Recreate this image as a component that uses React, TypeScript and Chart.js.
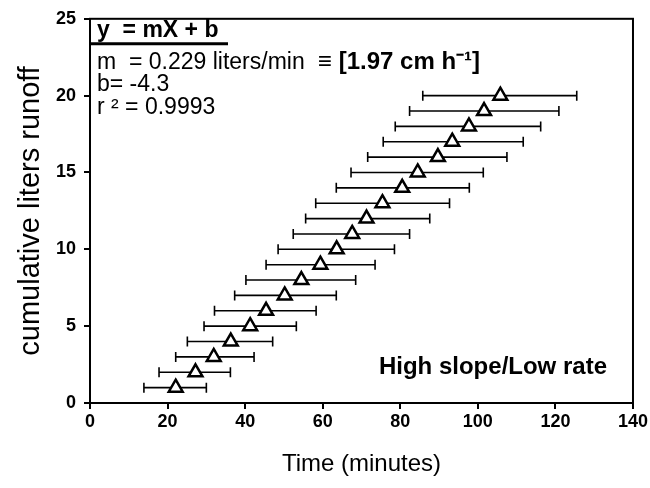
import React, { useEffect, useRef } from "react";
import { Chart, registerables } from "chart.js";

Chart.register(...registerables);

// cumulative liters of runoff (y) and time in minutes (x) with horizontal error range
const runoffLiters = [1, 2, 3, 4, 5, 6, 7, 8, 9, 10, 11, 12, 13, 14, 15, 16, 17, 18, 19, 20];
const timeMean = [22.1, 27.2, 31.9, 36.3, 41.3, 45.4, 50.2, 54.5, 59.4, 63.6, 67.6, 71.3, 75.4, 80.5, 84.5, 89.7, 93.4, 97.7, 101.6, 105.8];
const timeLow = [13.9, 17.8, 22.1, 25.1, 29.4, 32.1, 37.3, 40.2, 45.4, 48.5, 52.4, 55.6, 58.2, 63.5, 67.3, 71.6, 75.6, 78.7, 82.4, 85.8];
const timeHigh = [30.0, 36.2, 42.3, 47.1, 53.2, 58.3, 63.5, 68.5, 73.5, 78.5, 82.4, 87.6, 92.7, 97.8, 101.4, 107.5, 111.7, 116.2, 120.9, 125.5];

const xTitle = "Time (minutes)";
const yTitle = "cumulative liters runoff";
const eqTitle = "y  = mX + b";
const eqSlope = "m  = 0.229 liters/min";
const eqRate = "\u2261 [1.97 cm h\u207B\u00B9]";
const eqIntercept = "b= -4.3";
const eqR2 = "r \u00B2 = 0.9993";
const cornerLabel = "High slope/Low rate";

const FONT = "'Liberation Sans', Arial, Helvetica, sans-serif";

const errorBarPlugin = {
  id: "errorBars",
  beforeDatasetsDraw(chart: any) {
    const { ctx, scales } = chart;
    const xs = scales.x;
    const ys = scales.y;
    ctx.save();
    ctx.strokeStyle = "#000";
    ctx.lineWidth = 1.6;
    const cap = 5;
    for (let i = 0; i < runoffLiters.length; i++) {
      const y = ys.getPixelForValue(runoffLiters[i]);
      const x0 = xs.getPixelForValue(timeLow[i]);
      const x1 = xs.getPixelForValue(timeHigh[i]);
      ctx.beginPath();
      ctx.moveTo(x0, y);
      ctx.lineTo(x1, y);
      ctx.moveTo(x0, y - cap);
      ctx.lineTo(x0, y + cap);
      ctx.moveTo(x1, y - cap);
      ctx.lineTo(x1, y + cap);
      ctx.stroke();
    }
    ctx.restore();
  },
};

const framePlugin = {
  id: "frameAndText",
  afterDraw(chart: any) {
    const { ctx, chartArea } = chart;
    const { left, top, right, bottom } = chartArea;
    ctx.save();
    ctx.strokeStyle = "#000";
    ctx.lineWidth = 2;
    ctx.strokeRect(left, top, right - left, bottom - top);

    ctx.fillStyle = "#000";
    ctx.textBaseline = "middle";
    ctx.textAlign = "left";
    ctx.font = `bold 23px ${FONT}`;
    ctx.fillText(eqTitle, left + 7, top + 12);
    ctx.lineWidth = 3;
    ctx.beginPath();
    ctx.moveTo(left, top + 25);
    ctx.lineTo(left + 138, top + 25);
    ctx.stroke();

    ctx.font = `23px ${FONT}`;
    ctx.fillText(eqSlope, left + 7, top + 44);
    ctx.font = `bold 24px ${FONT}`;
    ctx.fillText(eqRate, left + 228, top + 44);
    ctx.font = `23px ${FONT}`;
    ctx.fillText(eqIntercept, left + 7, top + 66);
    ctx.fillText(eqR2, left + 7, top + 89);

    ctx.font = `bold 24px ${FONT}`;
    ctx.textAlign = "right";
    ctx.fillText(cornerLabel, right - 26, bottom - 36);
    ctx.restore();
  },
};

export default function App() {
  const canvasRef = useRef<HTMLCanvasElement | null>(null);

  useEffect(() => {
    const canvas = canvasRef.current;
    if (!canvas) return;
    const points = runoffLiters.map((y, i) => ({ x: timeMean[i], y }));
    const chart = new Chart(canvas, {
      type: "scatter",
      data: {
        datasets: [
          {
            data: points,
            pointStyle: "triangle",
            pointRadius: 8,
            pointBorderWidth: 2.5,
            pointBackgroundColor: "#fff",
            pointBorderColor: "#000",
            showLine: false,
          },
        ],
      },
      options: {
        responsive: false,
        animation: false,
        events: [],
        layout: { padding: { left: 0, top: 17, right: 17, bottom: 0 } },
        plugins: {
          legend: { display: false },
          tooltip: { enabled: false },
          title: { display: false },
        },
        scales: {
          x: {
            type: "linear",
            min: 0,
            max: 140,
            afterFit: (s: any) => {
              s.height = 85;
            },
            ticks: {
              stepSize: 20,
              color: "#000",
              padding: 2,
              font: { family: FONT, size: 18, weight: "bold" },
            },
            grid: {
              drawOnChartArea: false,
              drawTicks: true,
              tickLength: 6,
              color: "#000",
              lineWidth: 2,
            },
            border: { display: true, color: "#000", width: 2 },
            title: {
              display: true,
              text: xTitle,
              color: "#000",
              font: { family: FONT, size: 24 },
              padding: { top: 0, bottom: 9 },
            },
          },
          y: {
            type: "linear",
            min: 0,
            max: 25,
            afterFit: (s: any) => {
              s.width = 90;
            },
            ticks: {
              stepSize: 5,
              color: "#000",
              padding: 8,
              font: { family: FONT, size: 18, weight: "bold" },
            },
            grid: {
              drawOnChartArea: false,
              drawTicks: true,
              tickLength: 6,
              color: "#000",
              lineWidth: 2,
            },
            border: { display: true, color: "#000", width: 2 },
            title: {
              display: true,
              text: yTitle,
              color: "#000",
              font: { family: FONT, size: 29 },
              padding: { top: 14, bottom: 0 },
            },
          },
        },
      },
      plugins: [errorBarPlugin, framePlugin],
    });
    return () => chart.destroy();
  }, []);

  return (
    <div style={{ position: "fixed", left: 0, top: 0, width: 650, height: 488, background: "#fff" }}>
      <canvas ref={canvasRef} width={650} height={488} />
    </div>
  );
}
